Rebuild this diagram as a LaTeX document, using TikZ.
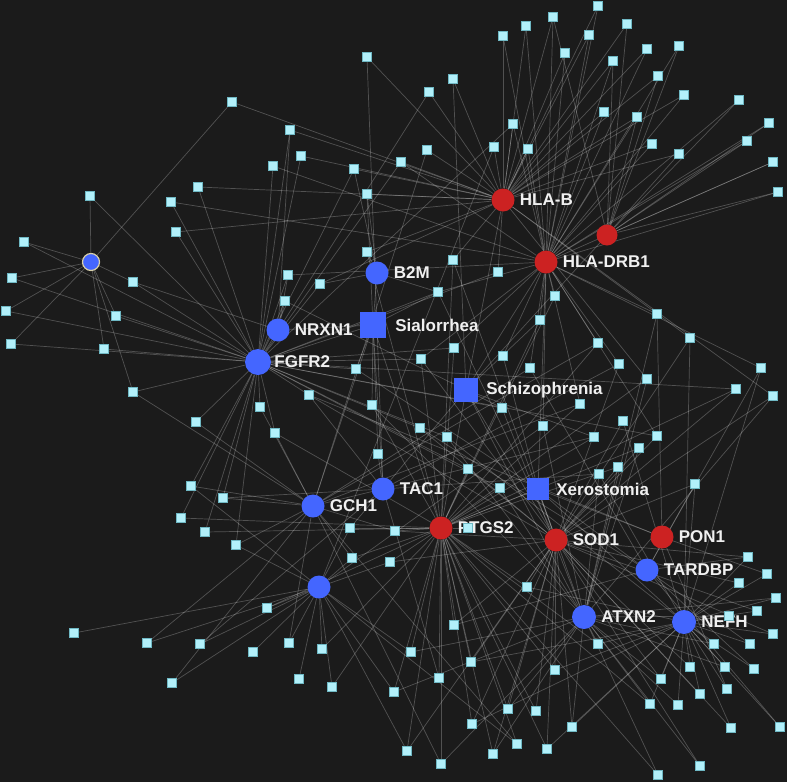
\documentclass[tikz,border=0pt]{standalone}
\usepackage{fontspec}
\setmainfont{Liberation Sans}
\definecolor{bgc}{HTML}{1B1B1B}
\definecolor{sqfill}{HTML}{B2F0FA}
\definecolor{sqdraw}{HTML}{6FB8C4}
\definecolor{hubblue}{HTML}{4466FF}
\definecolor{hubred}{HTML}{CC2222}
\definecolor{ringc}{HTML}{D8D0A8}
\definecolor{txtc}{HTML}{F0F0F0}
\pgfdeclarelayer{bgl}
\pgfdeclarelayer{edgel}
\pgfsetlayers{bgl,edgel,main}
\tikzset{
  sq/.style={rectangle,fill=sqfill,draw=sqdraw,line width=0.8pt,minimum size=9.5pt,inner sep=0pt},
  bhub/.style={circle,fill=hubblue,minimum size=23pt,inner sep=0pt},
  rhub/.style={circle,fill=hubred,minimum size=23pt,inner sep=0pt},
  dis/.style={rectangle,fill=hubblue,inner sep=0pt},
  lbl/.style={text=txtc,font=\bfseries\fontsize{17}{19}\selectfont,inner sep=0pt},
  edge/.style={draw=white,draw opacity=0.24,line width=0.7pt},
  label distance=5pt
}
\begin{document}
\begin{tikzpicture}[x=1pt,y=-1pt]
\useasboundingbox (0,0) rectangle (787,782);
\begin{pgfonlayer}{bgl}
\fill[bgc] (0,0) rectangle (787,782);
\end{pgfonlayer}
% hubs
\node[bhub,minimum size=17pt,draw=ringc,line width=1.2pt] (U) at (91,262) {};
\node[rhub,label={[lbl]right:HLA-B}] (HB) at (503,200) {};
\node[rhub,minimum size=21pt] (R2) at (607,235) {};
\node[rhub,label={[lbl]right:HLA-DRB1}] (HD) at (546,262) {};
\node[bhub,label={[lbl]right:B2M}] (B2M) at (377,273) {};
\node[dis,minimum size=26pt,label={[lbl,label distance=9pt]right:Sialorrhea}] (SIA) at (373,325) {};
\node[bhub,label={[lbl]right:NRXN1}] (NR) at (278,330) {};
\node[bhub,minimum size=26pt,label={[lbl,label distance=3pt]right:FGFR2}] (FG) at (258,362) {};
\node[dis,minimum size=24pt,label={[lbl,label distance=8pt]right:Schizophrenia}] (SCH) at (466,390) {};
\node[bhub,label={[lbl]right:TAC1}] (TAC) at (383,489) {};
\node[bhub,label={[lbl]right:GCH1}] (GCH) at (313,506) {};
\node[dis,minimum size=22pt,label={[lbl,label distance=7pt]right:Xerostomia}] (XER) at (538,489) {};
\node[rhub,label={[lbl]right:PTGS2}] (PT) at (441,528) {};
\node[rhub,label={[lbl]right:SOD1}] (SOD) at (556,540) {};
\node[rhub,label={[lbl]right:PON1}] (PON) at (662,537) {};
\node[bhub,label={[lbl]right:TARDBP}] (TAR) at (647,570) {};
\node[bhub] (U2) at (319,587) {};
\node[bhub,minimum size=24pt,label={[lbl]right:ATXN2}] (AT) at (584,617) {};
\node[bhub,minimum size=24pt,label={[lbl]right:NEFH}] (NE) at (684,622) {};
% small squares
\foreach \n/\x/\y in {1/232/102,2/90/196,3/198/187,4/171/202,5/176/232,6/24/242,7/12/278,8/133/282,9/6/311,10/116/316,11/11/344,12/104/349,13/133/392,14/196/422,15/260/407,16/191/486,17/223/498,18/181/518,19/205/532,20/236/545,21/74/633,22/147/643,23/200/644,24/253/652,25/172/683,27/290/130,28/301/156,29/273/166,30/354/169,31/367/57,32/401/162,33/427/150,34/429/92,35/453/79,36/494/147,37/503/36,38/526/26,39/513/124,40/528/149,41/367/194,42/367/252,43/453/260,44/598/6,45/553/17,46/589/35,47/627/24,48/565/53,49/613/61,50/647/49,51/679/46,52/658/76,53/684/95,54/739/100,55/769/123,56/747/141,57/773/162,58/778/192,59/604/112,60/637/117,61/652/144,62/679/154,64/288/275,65/320/284,66/285/301,67/438/292,68/498/272,69/454/348,70/421/359,71/503/356,72/356/369,73/309/395,74/372/405,75/502/408,76/275/433,77/420/428,78/447/437,79/378/454,80/468/469,81/500/488,82/555/296,83/540/320,84/657/314,85/690/338,86/598/343,87/530/368,88/619/364,89/647/379,90/761/368,91/736/389,92/773/396,93/580/404,94/543/426,95/623/421,96/594/437,97/657/436,98/639/448,99/618/467,100/599/474,101/695/484,102/350/528,103/395/531,104/468/528,105/352/558,106/390/562,107/267/608,108/289/643,109/322/649,110/299/679,111/332/687,112/411/652,113/454/625,114/471/662,115/439/678,116/394/692,117/472/724,118/508/709,119/517/744,120/493/754,121/407/751,122/441/764,123/527/587,125/748/557,126/767/574,127/739/583,128/776/598,129/757/611,130/729/616,131/773/634,132/750/644,133/714/644,134/598/644,135/690/667,136/725/667,137/754/669,138/555/670,139/661/679,140/727/689,141/700/694,142/650/704,143/678/705,144/536/711,145/572/727,146/731/728,147/780/727,148/547/749,149/700/766,150/658/775}
  \node[sq] (s\n) at (\x,\y) {};
\begin{pgfonlayer}{edgel}
\foreach \a/\b in {1/U,1/HB,2/U,2/FG,3/FG,3/HB,4/FG,4/HD,5/FG,5/HB,6/U,6/FG,7/U,7/FG,8/U,8/FG,8/NR,9/U,9/FG,10/U,10/FG,11/FG,11/U,12/U,12/FG,13/U,13/FG,13/GCH,14/FG,15/FG,16/FG,16/U2,17/FG,17/TAC,18/FG,18/PT,19/FG,19/PT,20/U2,20/GCH,20/FG,21/U2,22/U2,22/GCH,23/U2,23/TAC,24/U2,25/U2,25/GCH,27/FG,27/HB,27/NR,28/FG,28/HB,29/FG,29/HD,30/FG,30/HB,30/B2M,31/HB,31/TAC,32/HB,32/FG,32/HD,33/HB,33/GCH,34/HB,34/FG,35/HB,35/SCH,36/HB,36/U2,37/HB,37/HD,38/HB,38/HD,39/HB,39/HD,39/FG,40/HB,40/HD,41/HB,41/SIA,41/B2M,42/B2M,42/HB,43/HB,43/PT,44/HB,44/HD,45/HB,45/HD,45/R2,46/HB,46/HD,47/HB,47/R2,48/HB,48/HD,49/HB,49/HD,49/R2,50/HB,50/HD,51/HD,51/R2,52/HB,52/R2,53/HB,53/HD,54/HD,54/R2,55/HD,55/R2,56/HD,56/R2,57/HD,57/R2,58/HD,58/R2,59/HB,59/HD,60/HB,60/HD,60/R2,61/HB,61/HD,62/HB,62/R2,64/FG,64/NR,65/FG,65/HB,65/B2M,66/FG,66/NR,67/HD,67/SIA,67/FG,67/B2M,68/HB,68/FG,69/HD,69/FG,70/HD,70/FG,70/PT,71/HD,71/XER,72/FG,72/SIA,73/FG,73/SOD,74/SIA,74/PT,75/SCH,75/FG,76/FG,77/FG,77/SOD,78/FG,78/AT,79/SIA,79/TAC,80/PT,80/FG,81/FG,81/PT,82/HD,83/HD,83/SCH,84/HD,84/PON,85/HB,85/NE,86/HD,86/PT,87/HD,87/TAR,88/HD,88/SOD,89/HB,89/AT,90/HD,90/TAR,91/PT,91/SOD,92/HB,92/AT,93/HD,93/GCH,94/HD,94/AT,95/SOD,95/NE,96/PT,96/SCH,97/SOD,97/HD,98/SOD,98/AT,99/PT,99/SOD,100/TAC,100/AT,101/NE,101/TAR,102/PT,102/U2,103/PT,103/GCH,104/PT,105/PT,105/U2,106/SOD,106/U2,107/U2,107/PT,108/U2,108/GCH,109/U2,109/PT,110/U2,111/U2,111/PT,112/U2,112/AT,113/PT,113/TAR,114/PT,114/SOD,115/PT,115/TAC,116/U2,116/AT,117/PT,117/NE,118/PT,118/AT,119/PT,119/GCH,120/PT,120/AT,121/U2,121/SOD,122/GCH,122/AT,123/PT,123/SOD,125/NE,125/TAR,125/SOD,126/NE,126/PON,127/NE,127/SOD,128/NE,128/AT,129/NE,129/SOD,130/NE,130/AT,131/NE,131/SOD,132/NE,132/TAR,133/NE,133/AT,134/AT,134/PT,135/NE,135/SOD,136/NE,136/AT,137/NE,137/TAR,138/SOD,138/PT,139/AT,139/NE,140/NE,140/PON,141/NE,141/SOD,142/AT,142/PT,143/NE,143/AT,144/SOD,144/PT,145/AT,145/SOD,146/NE,146/SOD,147/NE,147/TAR,148/SOD,148/PT,149/AT,149/SOD,150/AT,150/PT,
64/HD,66/SCH,72/XER,73/PON,74/AT,76/PT,77/TAR,78/NE,80/SOD,81/AT,69/PT,70/SOD,86/GCH,88/TAC,93/PT,94/U2,96/GCH,97/FG,98/PT,99/AT,100/NE,43/SOD,42/PT,67/SOD,75/AT,83/PT,82/PT,87/GCH,89/PT,91/FG,85/SOD,84/AT,90/NE,92/SOD,101/SOD,113/SOD,114/NE,118/SOD,117/SOD,123/NE,134/NE,138/NE,142/NE,145/NE,148/NE,139/SOD,106/PT,103/SOD,102/TAC,105/GCH,112/PT,116/PT,121/PT,122/PT,119/U2,120/SOD,15/GCH,14/GCH,16/GCH,17/GCH,76/GCH,73/TAC}
  \draw[edge] (s\a) -- (\b);
\foreach \a/\b in {SIA/B2M,SIA/NR,SIA/FG,SIA/TAC,SIA/GCH,SIA/PT,SCH/HB,SCH/HD,SCH/PT,SCH/SOD,SCH/TAC,SCH/AT,SCH/R2,XER/SOD,XER/PON,XER/PT,XER/TAR,XER/NE,XER/HD,XER/AT}
  \draw[edge] (\a) -- (\b);
\end{pgfonlayer}
\end{tikzpicture}
\end{document}
